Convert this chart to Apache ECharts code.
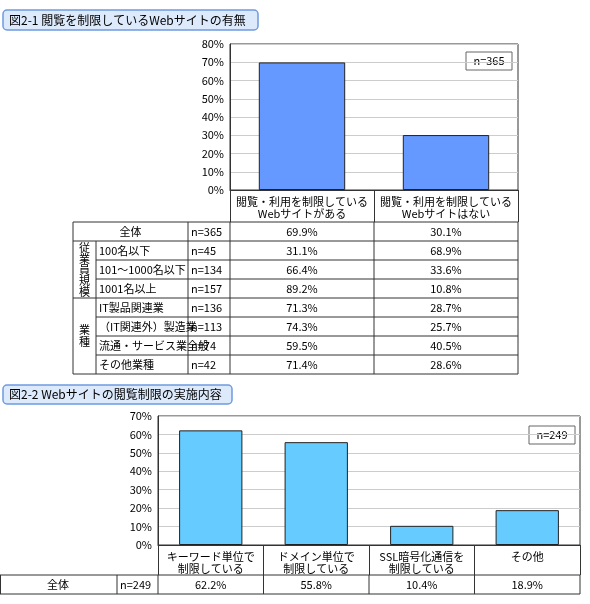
<!DOCTYPE html><html><head><meta charset="utf-8">
<script src="https://cdn.jsdelivr.net/npm/echarts@6/dist/echarts.min.js"></script>
<style>html,body{margin:0;padding:0;background:#fff}#c{width:590px;height:604px}</style></head><body><div id="c"></div>
<script>
const title1='図2-1 閲覧を制限しているWebサイトの有無';
const title2='図2-2 Webサイトの閲覧制限の実施内容';
const cats1=['閲覧・利用を制限している\nWebサイトがある','閲覧・利用を制限している\nWebサイトはない'];
const rowLabels1=['全体','100名以下','101～1000名以下','1001名以上','IT製品関連業','（IT関連外）製造業','流通・サービス業全般','その他業種'];
const groupLabels1=['従業員規模','業種'];
const n1=[365,45,134,157,136,113,74,42];
const colA1=[69.9,31.1,66.4,89.2,71.3,74.3,59.5,71.4];
const colB1=[30.1,68.9,33.6,10.8,28.7,25.7,40.5,28.6];
const cats2=['キーワード単位で\n制限している','ドメイン単位で\n制限している','SSL暗号化通信を\n制限している','その他'];
const vals2=[62.2,55.8,10.4,18.9];
const n2=249;
const yTicks1=[0,10,20,30,40,50,60,70,80];
const yTicks2=[0,10,20,30,40,50,60,70];

const F='"Noto Sans CJK JP",sans-serif';
const ts={fontFamily:F,fontSize:11,fill:'#000'};
const g=[];
function line(x1,y1,x2,y2){g.push({type:'line',shape:{x1,y1,x2,y2},style:{stroke:'#333',lineWidth:1}});}
function txt(x,y,t,align){g.push({type:'text',x,y,style:Object.assign({},ts,{text:t,align:align||'center',verticalAlign:'middle'})});}
function titleBox(x,y,w,h,t){g.push({type:'rect',shape:{x,y,width:w,height:h,r:4},style:{fill:'#dceafc',stroke:'#6d9be0',lineWidth:1.5}});
 g.push({type:'text',x:x+6,y:y+h/2,style:Object.assign({},ts,{text:t,fontSize:12,verticalAlign:'middle',align:'left'})});}
function nBox(x,y,t){g.push({type:'rect',shape:{x,y,width:46,height:18},style:{fill:'#fff',stroke:'#666',lineWidth:1}});txt(x+23,y+9,t);}
titleBox(3,10,255,20,title1);
titleBox(3,385,229,19,title2);
nBox(466,52,'n='+n1[0]);
nBox(529,426,'n='+n2);
// table 1
const T0=222,RH=19,L=73,GX=96,NX=188,C=[230,374,518];
const T1=T0+RH*rowLabels1.length;
line(L,T0,C[2],T0);line(L,T1,C[2],T1);line(L,T0,L,T1);
line(GX,T0+RH,GX,T1);line(NX,T0,NX,T1);C.forEach(x=>line(x,T0,x,T1));
for(let i=1;i<rowLabels1.length;i++){const x0=(i===1||i===4)?L:GX;line(x0,T0+RH*i,C[2],T0+RH*i);}
rowLabels1.forEach((r,i)=>{const cy=T0+RH*i+RH/2;
 if(i===0)txt((L+NX)/2,cy,r);else txt(GX+3,cy,r,'left');
 txt(NX+3,cy,'n='+n1[i],'left');
 txt((C[0]+C[1])/2,cy,colA1[i].toFixed(1)+'%');txt((C[1]+C[2])/2,cy,colB1[i].toFixed(1)+'%');});
g.push({type:'text',x:(L+GX)/2,y:T0+RH*2.5,style:Object.assign({},ts,{text:groupLabels1[0].split('').join('\n'),lineHeight:11,align:'center',verticalAlign:'middle'})});
g.push({type:'text',x:(L+GX)/2,y:T0+RH*6,style:Object.assign({},ts,{text:groupLabels1[1].split('').join('\n'),lineHeight:12,align:'center',verticalAlign:'middle'})});
// table 2
const U0=575,U1=594,G2L=158,G2W=422;
line(0,U0,580,U0);line(0,U1,580,U1);line(0.5,U0,0.5,U1);line(117,U0,117,U1);
for(let i=0;i<=cats2.length;i++)line(G2L+G2W*i/cats2.length,U0,G2L+G2W*i/cats2.length,U1);
txt(58,(U0+U1)/2,'全体');txt(120,(U0+U1)/2,'n='+n2,'left');
vals2.forEach((v,i)=>txt(G2L+G2W*(i+0.5)/cats2.length,(U0+U1)/2,v.toFixed(1)+'%'));

const axisY=(ticks)=>({type:'value',min:ticks[0],max:ticks[ticks.length-1],interval:10,
 axisLabel:{formatter:'{value}%',fontFamily:F,fontSize:11,color:'#000',margin:6},
 axisLine:{show:true,lineStyle:{color:'#333'}},axisTick:{show:false},splitLine:{lineStyle:{color:'#ccc'}}});
const axisX=(cats,gi,len)=>({type:'category',data:cats,gridIndex:gi,
 axisLabel:{fontFamily:F,fontSize:11,color:'#000',lineHeight:12,margin:6,interval:0},
 axisLine:{lineStyle:{color:'#333'}},axisTick:{show:true,length:len,lineStyle:{color:'#333'}}});
const chart=echarts.init(document.getElementById('c'));
chart.setOption({animation:false,
 grid:[{left:230,top:44,width:288,height:146,show:true,borderColor:'#333',backgroundColor:'#fff'},
       {left:158,top:416,width:422,height:129,show:true,borderColor:'#333',backgroundColor:'#fff'}],
 xAxis:[axisX(cats1,0,32),axisX(cats2,1,30)],
 yAxis:[Object.assign(axisY(yTicks1),{gridIndex:0}),Object.assign(axisY(yTicks2),{gridIndex:1})],
 series:[{type:'bar',data:colA1.slice(0,1).concat(colB1.slice(0,1)),xAxisIndex:0,yAxisIndex:0,barWidth:'60%',itemStyle:{color:'#6699ff',borderColor:'#222',borderWidth:1}},
   {type:'bar',data:vals2,xAxisIndex:1,yAxisIndex:1,barWidth:'60%',itemStyle:{color:'#66ccff',borderColor:'#222',borderWidth:1}}],
 graphic:g});
</script></body></html>
